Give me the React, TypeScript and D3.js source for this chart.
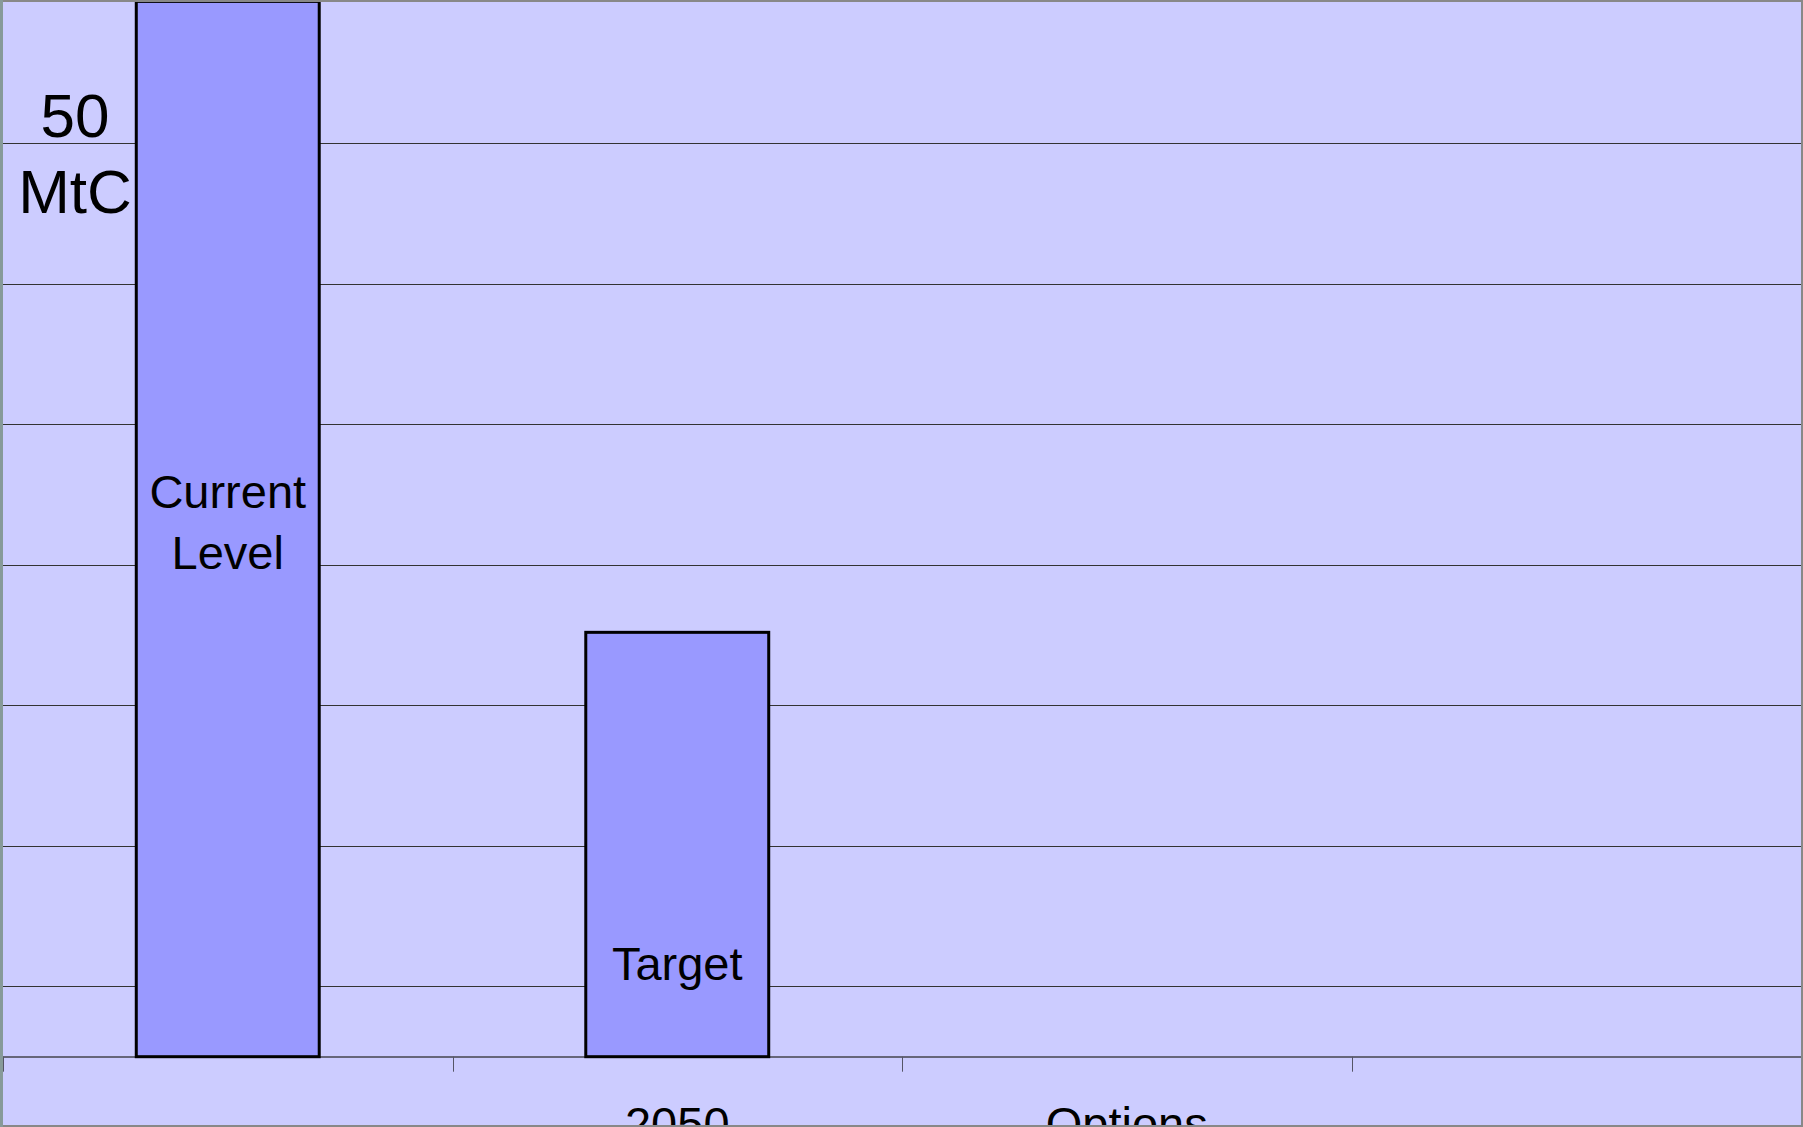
import React from "react";
import * as d3 from "d3";

const categories = ["current", "2050", "options", "extra"];
const tickLabels = ["", "2050", "Options", ""];
const values: (number | null)[] = [75.1, 30.2, null, null];
const barLabels = [["Current", "Level"], ["Target"], [], []];
const gridValues = [5, 15, 25, 35, 45, 55, 65];
const axisLabel = ["50", "MtC"];

const W = 1803;
const H = 1127;
const FONT = "'Liberation Sans', Arial, Helvetica, sans-serif";

export default function App() {
  const left = 3, right = 1801, baseY = 1056.7, topY = 0;
  const x = d3.scaleBand<string>().domain(categories).range([left, right]).paddingInner(0.593).paddingOuter(0.2965);
  const band = d3.scaleBand<string>().domain(categories).range([left, right]);
  const y = d3.scaleLinear().domain([0, 75.2]).range([baseY, topY]);
  const ticksX = d3.range(categories.length + 1).map((i) => Math.round(left + i * band.step()) + 0.5);
  const crisp = (v: number) => Math.round(v) + 0.5;

  return (
    <div style={{ position: "absolute", left: 0, top: 0, width: W, height: H, overflow: "hidden" }}>
      <svg width={W} height={H} style={{ display: "block" }}>
        <rect x={0} y={0} width={W} height={H} fill="#CCCCFF" />
        {gridValues.map((g) => (
          <line key={g} x1={left} x2={right} y1={crisp(y(g))} y2={crisp(y(g))} stroke="#333333" strokeWidth={1} />
        ))}
        {/* axis baseline */}
        <line x1={left} x2={right} y1={Math.round(baseY)} y2={Math.round(baseY)} stroke="#66667a" strokeWidth={2} />
        {ticksX.map((t, i) => (
          <line key={i} x1={t} x2={t} y1={baseY} y2={baseY + 15} stroke="#555566" strokeWidth={1} />
        ))}
        {categories.map((c, i) => {
          const v = values[i];
          if (v == null) return null;
          const bx = x(c)!;
          const bw = x.bandwidth();
          const by = y(v);
          return (
            <rect key={c} x={bx} y={by} width={bw} height={baseY - by} fill="#9999FF" stroke="#000" strokeWidth={3} />
          );
        })}
        {/* bar labels */}
        {categories.map((c, i) => {
          const v = values[i];
          const lines = barLabels[i];
          if (v == null || !lines.length) return null;
          const cx = x(c)! + x.bandwidth() / 2;
          const lh = 61;
          let firstBase: number;
          if (lines.length > 1) {
            const mid = (y(v) + baseY) / 2;
            firstBase = mid - 21;
          } else {
            firstBase = baseY - 77;
          }
          return lines.map((t, k) => (
            <text key={c + k} x={cx} y={firstBase + k * lh} textAnchor="middle" fontFamily={FONT} fontSize={47} fill="#000">
              {t}
            </text>
          ));
        })}
        {/* axis unit label */}
        <text x={75} y={137} textAnchor="middle" fontFamily={FONT} fontSize={62} fill="#000">{axisLabel[0]}</text>
        <text x={75} y={213} textAnchor="middle" fontFamily={FONT} fontSize={62} fill="#000">{axisLabel[1]}</text>
        {/* category labels (clipped at the bottom edge, as in the source) */}
        {categories.map((c, i) => (
          <text key={"t" + c} x={band(c)! + band.bandwidth() / 2} y={1140} textAnchor="middle" fontFamily={FONT} fontSize={47} fill="#000">
            {tickLabels[i]}
          </text>
        ))}
        {/* outer border */}
        <rect x={0} y={0} width={W} height={2} fill="#888888" />
        <rect x={W - 2} y={0} width={2} height={H} fill="#888888" />
        <rect x={0} y={H - 2} width={W} height={2} fill="#888888" />
        <rect x={0} y={0} width={3} height={H} fill="#879a99" />
      </svg>
    </div>
  );
}
